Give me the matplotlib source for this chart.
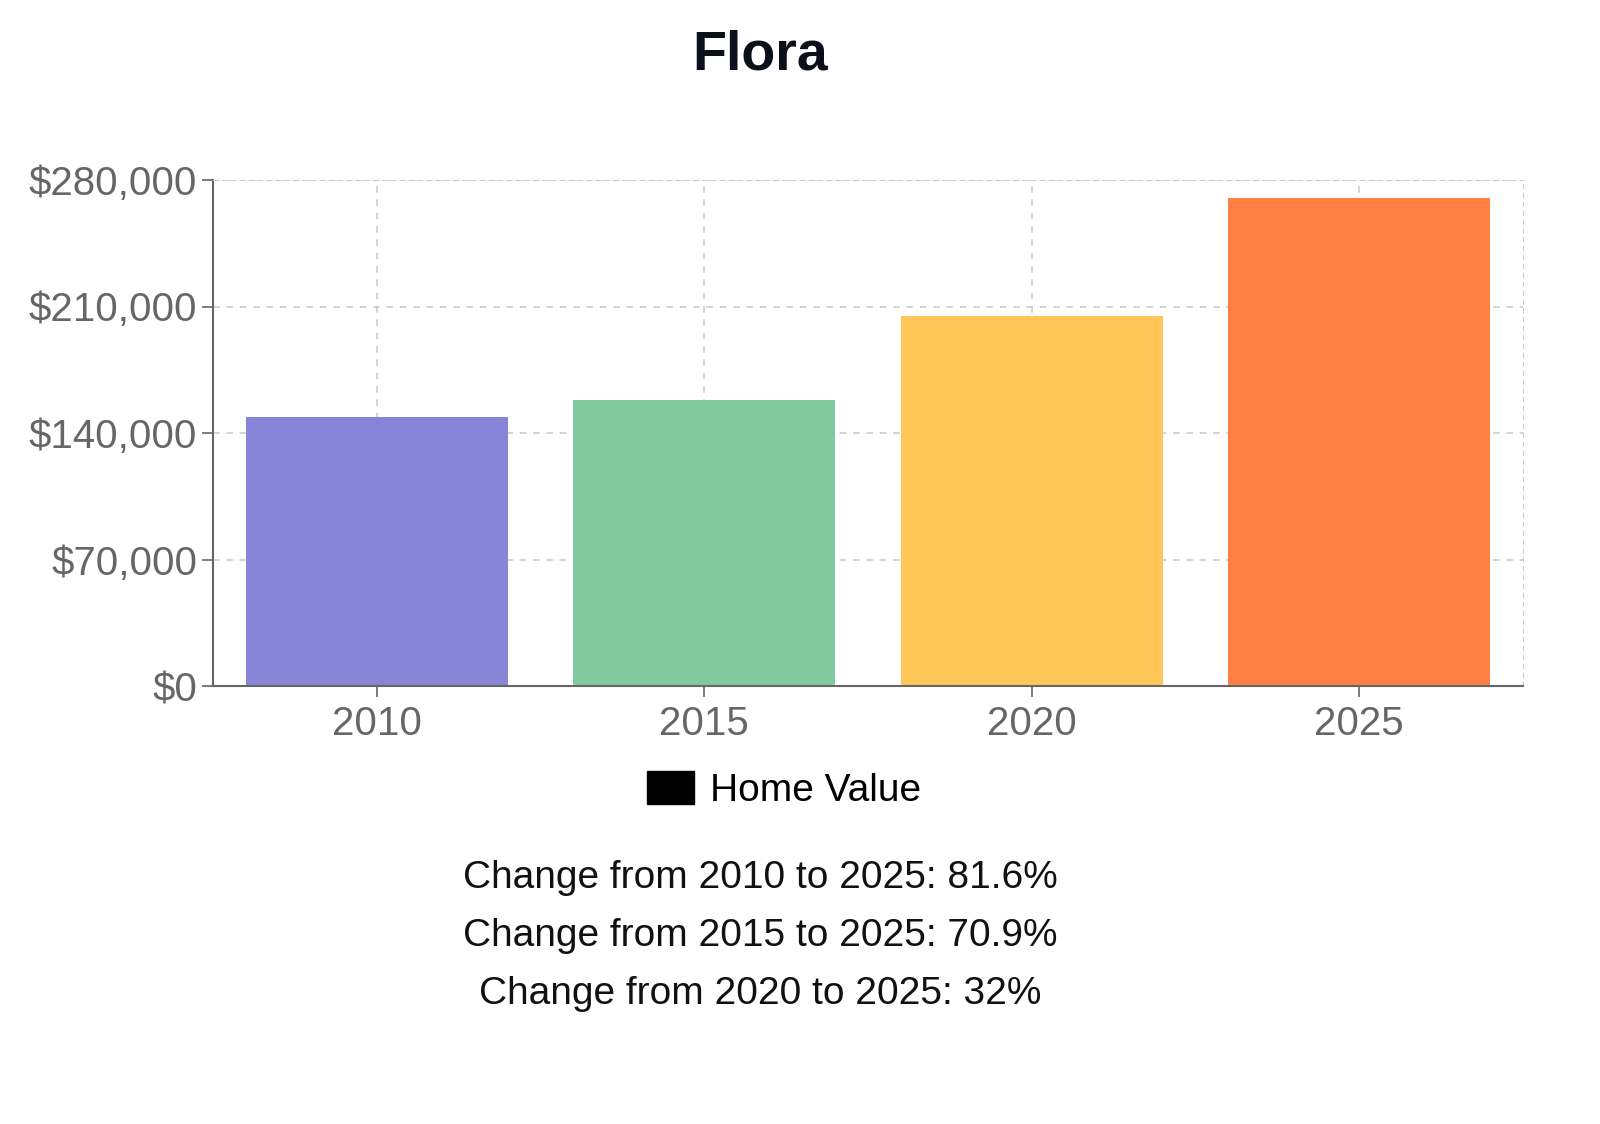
import matplotlib
matplotlib.use("Agg")
import matplotlib.pyplot as plt
from matplotlib.patches import Patch

years = ["2010", "2015", "2020", "2025"]
values = [148700, 158000, 204500, 270000]
colors = ["#8884d8", "#82ca9d", "#ffc658", "#ff8042"]
yticks = [0, 70000, 140000, 210000, 280000]
ytick_labels = ["$0", "$70,000", "$140,000", "$210,000", "$280,000"]
changes = ["Change from 2010 to 2025: 81.6%",
           "Change from 2015 to 2025: 70.9%",
           "Change from 2020 to 2025: 32%"]

plt.rcParams["font.family"] = "Liberation Sans"
W, H = 1600, 1124
fig = plt.figure(figsize=(W/100, H/100), dpi=100)
ax = fig.add_axes([213/W, 1-686/H, (1523-213)/W, (686-180)/H])
x = list(range(len(years)))
ax.bar(x, values, width=0.8, color=colors)
ax.set_xlim(-0.5, 3.5)
ax.set_ylim(0, 280000)
ax.set_yticks(yticks)
ax.set_yticklabels(ytick_labels)
ax.set_xticks(x)
ax.set_xticklabels(years)
ax.tick_params(colors="#666666", labelsize=29, length=8, width=1.2)
ax.tick_params(axis="x", pad=6)
ax.grid(True, linestyle=(0, (4, 4)), color="#cccccc", linewidth=1.2)
ax.set_axisbelow(True)
for s in ["top", "right"]:
    ax.spines[s].set_visible(True)
    ax.spines[s].set_color("#cccccc")
    ax.spines[s].set_linestyle((0, (4, 4)))
for s in ["left", "bottom"]:
    ax.spines[s].set_color("#666666")
    ax.spines[s].set_linewidth(1.5)

fig.text(0.475, 1-55/H, "Flora", ha="center", va="center", fontsize=40, fontweight="bold", color="#0b0f1a")
fig.legend(handles=[Patch(color="black", label="Home Value")], loc="center",
           bbox_to_anchor=(0.49, 1-790/H), frameon=False, fontsize=28,
           handlelength=1.2, handleheight=0.9, handletextpad=0.4)
for i, t in enumerate(changes):
    fig.text(0.475, 1-(878+58*i)/H, t, ha="center", va="center", fontsize=28, color="#111111")
fig.savefig("out.png", dpi=100, facecolor="white")
